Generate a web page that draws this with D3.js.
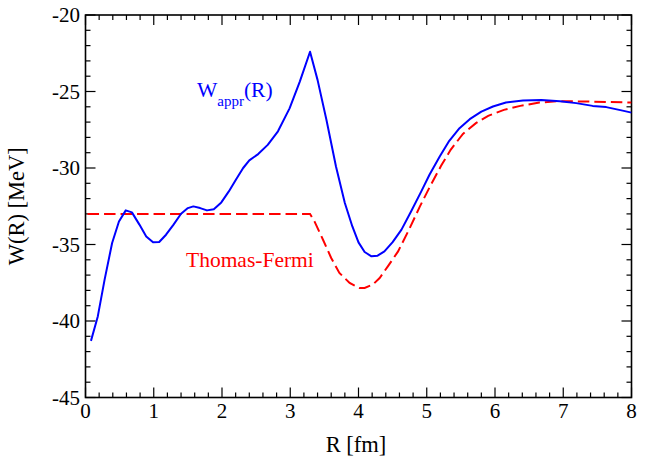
<!DOCTYPE html>
<html>
<head>
<meta charset="utf-8">
<script src="https://cdn.jsdelivr.net/npm/d3@7"></script>
<style>
  html, body { margin: 0; padding: 0; background: #fff; }
  svg { display: block; }
  svg text { font-family: "Liberation Serif", "Times New Roman", "DejaVu Serif", serif; }
</style>
</head>
<body>
<svg id="chart" width="647" height="461"></svg>
<script>
// ---- data ----
const xTicks = [0, 1, 2, 3, 4, 5, 6, 7, 8];
const yTicks = [-45, -40, -35, -30, -25, -20];
const xLabel = "R [fm]";
const yLabel = "W(R) [MeV]";

// W_appr(R) (blue solid)
const apprR = [0.08, 0.18, 0.28, 0.39, 0.49, 0.59, 0.68, 0.79, 0.89, 0.99, 1.08, 1.18, 1.29, 1.40, 1.50, 1.58, 1.68, 1.78, 1.88, 1.99, 2.10, 2.21, 2.31, 2.40, 2.53, 2.67, 2.82, 2.99, 3.14, 3.29, 3.40, 3.53, 3.67, 3.80, 3.91, 4.00, 4.09, 4.19, 4.28, 4.38, 4.50, 4.63, 4.77, 4.92, 5.04, 5.19, 5.33, 5.48, 5.63, 5.80, 5.97, 6.16, 6.41, 6.68, 6.95, 7.19, 7.43, 7.63, 7.87, 8.00];
const apprW = [-41.3, -39.7, -37.3, -34.9, -33.5, -32.77, -32.9, -33.7, -34.47, -34.86, -34.84, -34.36, -33.7, -32.99, -32.62, -32.51, -32.62, -32.77, -32.69, -32.25, -31.53, -30.72, -30.0, -29.5, -29.09, -28.49, -27.6, -26.1, -24.35, -22.4, -24.24, -26.85, -29.9, -32.29, -33.82, -34.86, -35.49, -35.77, -35.73, -35.45, -34.84, -34.03, -32.84, -31.53, -30.44, -29.25, -28.22, -27.4, -26.81, -26.31, -25.98, -25.72, -25.59, -25.55, -25.63, -25.76, -25.94, -26.02, -26.25, -26.38];

// Thomas-Fermi (red dashed)
const tfR = [0.03, 3.29, 3.355, 3.48, 3.60, 3.72, 3.87, 4.01, 4.09, 4.21, 4.31, 4.43, 4.58, 4.74, 4.90, 5.06, 5.21, 5.35, 5.53, 5.72, 5.90, 6.13, 6.37, 6.65, 6.95, 7.43, 8.00];
const tfW = [-33.0, -33.0, -33.49, -34.69, -35.88, -36.86, -37.51, -37.84, -37.84, -37.62, -37.19, -36.43, -35.45, -34.03, -32.51, -31.1, -29.86, -28.81, -27.77, -27.07, -26.59, -26.2, -25.94, -25.72, -25.63, -25.66, -25.72];

const seriesLabels = { appr: "W", apprSub: "appr", apprTail: "(R)", tf: "Thomas-Fermi" };

// ---- layout ----
const FONT = "'Liberation Serif', 'Times New Roman', 'DejaVu Serif', serif";
const pL = 85.5, pR = 631.5, pT = 15, pB = 397.5;
const svg = d3.select("#chart").attr("font-family", FONT);
const x = d3.scaleLinear().domain([0, 8]).range([pL, pR]);
const y = d3.scaleLinear().domain([-45, -20]).range([pB, pT]);

svg.append("defs").append("clipPath").attr("id", "clip")
  .append("rect").attr("x", pL).attr("y", pT).attr("width", pR - pL).attr("height", pB - pT);

// minor / major ticks on all four sides (inward)
const xMinor = d3.range(0, 8.0001, 0.2).filter(v => Math.abs(v - Math.round(v)) > 1e-6);
const yMinor = d3.range(-45, -19.999, 1).filter(v => Math.abs(v % 5) > 1e-6);
const tickG = svg.append("g").attr("stroke", "#000").attr("stroke-width", 1.2);
function vt(v, len) {
  tickG.append("line").attr("x1", x(v)).attr("x2", x(v)).attr("y1", pB).attr("y2", pB - len);
  tickG.append("line").attr("x1", x(v)).attr("x2", x(v)).attr("y1", pT).attr("y2", pT + len);
}
function ht(v, len) {
  tickG.append("line").attr("y1", y(v)).attr("y2", y(v)).attr("x1", pL).attr("x2", pL + len);
  tickG.append("line").attr("y1", y(v)).attr("y2", y(v)).attr("x1", pR).attr("x2", pR - len);
}
xTicks.forEach(v => vt(v, 10));
xMinor.forEach(v => vt(v, 5));
yTicks.forEach(v => ht(v, 10));
yMinor.forEach(v => ht(v, 5));

// frame
svg.append("rect").attr("x", pL).attr("y", pT).attr("width", pR - pL).attr("height", pB - pT)
  .attr("fill", "none").attr("stroke", "#000").attr("stroke-width", 1.6);

// tick labels
svg.append("g").selectAll("text").data(xTicks).join("text")
  .attr("font-family", FONT)
  .attr("x", d => x(d)).attr("y", 418).attr("text-anchor", "middle")
  .attr("font-size", 21).text(d => d);
svg.append("g").selectAll("text").data(yTicks).join("text")
  .attr("font-family", FONT)
  .attr("x", 80).attr("y", d => y(d) + 7).attr("text-anchor", "end")
  .attr("font-size", 21).text(d => d);

// axis titles
svg.append("text").attr("font-family", FONT).attr("x", 356).attr("y", 452).attr("text-anchor", "middle")
  .attr("font-size", 22.5).text(xLabel);
svg.append("text").attr("font-family", FONT).attr("transform", `translate(24,${(pT + pB) / 2}) rotate(-90)`)
  .attr("text-anchor", "middle").attr("font-size", 22.5).text(yLabel);

// curves
const plot = svg.append("g").attr("clip-path", "url(#clip)");
const line = d3.line().x(d => x(d[0])).y(d => y(d[1])).curve(d3.curveLinear);
plot.append("path").datum(tfR.map((r, i) => [r, tfW[i]]))
  .attr("d", line).attr("fill", "none").attr("stroke", "#ff0000")
  .attr("stroke-width", 2).attr("stroke-dasharray", "11.5,5");
plot.append("path").datum(apprR.map((r, i) => [r, apprW[i]]))
  .attr("d", line).attr("fill", "none").attr("stroke", "#0000ff")
  .attr("stroke-width", 2).attr("stroke-linejoin", "round");

// series labels
const t1 = svg.append("text").attr("font-family", FONT).attr("x", 197).attr("y", 97).attr("fill", "#0000ff").attr("font-size", 21.5);
t1.append("tspan").text(seriesLabels.appr);
t1.append("tspan").attr("font-size", 15).attr("dy", 9).text(seriesLabels.apprSub);
t1.append("tspan").attr("dy", -9).text(seriesLabels.apprTail);
svg.append("text").attr("font-family", FONT).attr("x", 186).attr("y", 267).attr("fill", "#ff0000").attr("font-size", 21.5)
  .text(seriesLabels.tf);
</script>
</body>
</html>
